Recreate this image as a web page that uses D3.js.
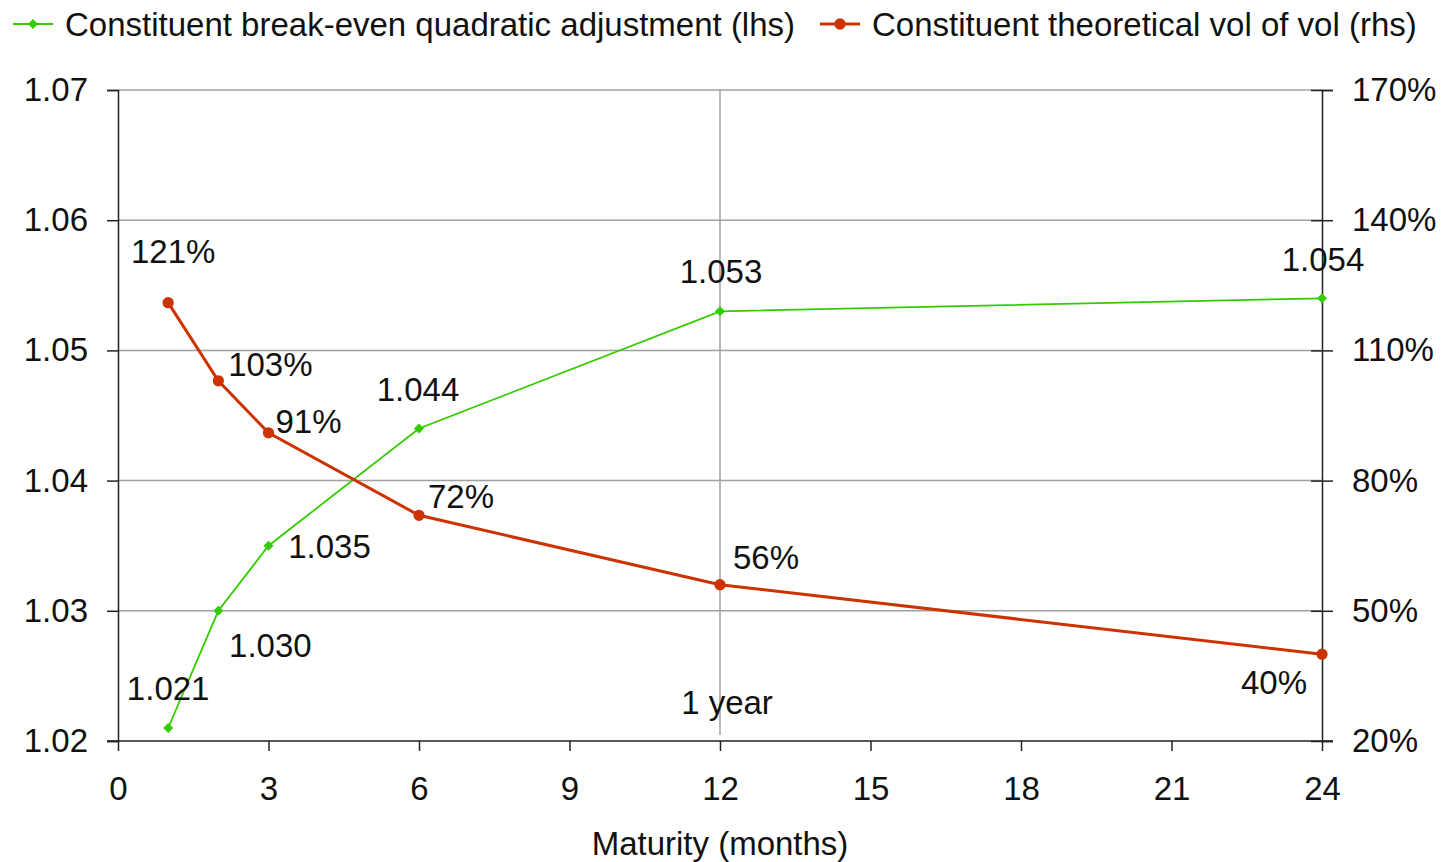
<!DOCTYPE html>
<html>
<head>
<meta charset="utf-8">
<script src="https://cdn.jsdelivr.net/npm/d3@7"></script>
<style>
  html, body { margin: 0; padding: 0; background: #fff; }
  svg { display: block; font-family: "Liberation Sans", Arial, sans-serif; }
</style>
</head>
<body>
<svg id="chart" width="1441" height="862"></svg>
<script>
// Maturities in months
const maturities = [1, 2, 3, 6, 12, 24];
// Break-even quadratic adjustment (left axis)
const adjustment = [1.021, 1.030, 1.035, 1.044, 1.053, 1.054];
// Theoretical vol of vol, percent (right axis)
const volOfVol = [121, 103, 91, 72, 56, 40];

const xTicks = [0, 3, 6, 9, 12, 15, 18, 21, 24];
const leftTicks = [1.02, 1.03, 1.04, 1.05, 1.06, 1.07];
const rightTicks = [20, 50, 80, 110, 140, 170];
const seriesNames = [
  "Constituent break-even quadratic adjustment (lhs)",
  "Constituent theoretical vol of vol (rhs)"
];
const markerMonth = 12;
const markerLabel = "1 year";
const xTitle = "Maturity (months)";

// label placement offsets (px) relative to each point
const adjOffsets = [[0, -28], [52, 46], [61, 12], [-1, -28], [1, -28], [1, -27]];
const volOffsets = [[5, -40], [52, -5], [40, 0], [42, -7], [46, -16], [-48, 40]];

const GREEN = "#33cc00";
const RED = "#cc3300";
const AXIS = "#222";
const GRID = "#a0a0a0";
const FS = 33;

const svg = d3.select("#chart");
const m = { left: 118, right: 1322, top: 90, bottom: 741 };

const x = d3.scaleLinear().domain([0, 24]).range([m.left, m.right]);
const yL = d3.scaleLinear().domain([1.02, 1.07]).range([m.bottom, m.top]);
const yR = d3.scaleLinear().domain([20, 170]).range([m.bottom, m.top]);

// horizontal gridlines
svg.append("g").selectAll("line").data(leftTicks.slice(1)).join("line")
  .attr("x1", m.left).attr("x2", m.right)
  .attr("y1", d => yL(d)).attr("y2", d => yL(d))
  .attr("stroke", GRID).attr("stroke-width", 1.5);

// 1-year reference line
svg.append("line")
  .attr("x1", x(markerMonth)).attr("x2", x(markerMonth))
  .attr("y1", m.top).attr("y2", m.bottom - 6)
  .attr("stroke", GRID).attr("stroke-width", 1.5);

// axes
const fmtL = d3.format(".2f");
const gL = svg.append("g").attr("transform", `translate(${m.left},0)`)
  .call(d3.axisLeft(yL).tickValues(leftTicks).tickFormat(fmtL).tickSize(11).tickPadding(19));
const gR = svg.append("g").attr("transform", `translate(${m.right},0)`)
  .call(d3.axisRight(yR).tickValues(rightTicks).tickFormat(d => d + "%").tickSize(11).tickPadding(19));
const gX = svg.append("g").attr("transform", `translate(0,${m.bottom})`)
  .call(d3.axisBottom(x).tickValues(xTicks).tickSize(10).tickPadding(26));

[gL, gR, gX].forEach(g => {
  g.select(".domain").attr("stroke", AXIS).attr("stroke-width", 1.5);
  g.selectAll(".tick line").attr("stroke", AXIS).attr("stroke-width", 1.5);
  g.selectAll("text").attr("fill", "#111").style("font-size", FS + "px")
    .style("font-family", "'Liberation Sans', Arial, sans-serif");
});
// right ticks cross the axis
gR.selectAll(".tick line").attr("x1", -11);
gX.select(".domain").attr("d", `M${m.left - 11},0H${m.right + 11}`);

// x axis title
svg.append("text")
  .attr("x", (m.left + m.right) / 2).attr("y", 855)
  .attr("text-anchor", "middle").attr("fill", "#111")
  .style("font-size", FS + "px").text(xTitle);

// 1 year label
svg.append("text")
  .attr("x", x(markerMonth) + 7).attr("y", 714)
  .attr("text-anchor", "middle").attr("fill", "#111")
  .style("font-size", FS + "px").text(markerLabel);

const adjData = maturities.map((mo, i) => ({ mo, v: adjustment[i], off: adjOffsets[i] }));
const volData = maturities.map((mo, i) => ({ mo, v: volOfVol[i], off: volOffsets[i] }));

// series lines
svg.append("path").datum(adjData)
  .attr("fill", "none").attr("stroke", GREEN).attr("stroke-width", 1.8)
  .attr("d", d3.line().x(d => x(d.mo)).y(d => yL(d.v)));
svg.append("path").datum(volData)
  .attr("fill", "none").attr("stroke", RED).attr("stroke-width", 3)
  .attr("d", d3.line().x(d => x(d.mo)).y(d => yR(d.v)));

// markers
const diamond = d3.symbol().type(d3.symbolSquare).size(50);
const dot = d3.symbol().type(d3.symbolCircle).size(100);
svg.append("g").selectAll("path").data(adjData).join("path")
  .attr("transform", d => `translate(${x(d.mo)},${yL(d.v)}) rotate(45)`)
  .attr("d", diamond).attr("fill", GREEN);
svg.append("g").selectAll("path").data(volData).join("path")
  .attr("transform", d => `translate(${x(d.mo)},${yR(d.v)})`)
  .attr("d", dot).attr("fill", RED);

// value labels
const fmtAdj = d3.format(".3f");
svg.append("g").selectAll("text").data(adjData).join("text")
  .attr("x", d => x(d.mo) + d.off[0]).attr("y", d => yL(d.v) + d.off[1])
  .attr("text-anchor", "middle").attr("fill", "#111")
  .style("font-size", FS + "px").text(d => fmtAdj(d.v));
svg.append("g").selectAll("text").data(volData).join("text")
  .attr("x", d => x(d.mo) + d.off[0]).attr("y", d => yR(d.v) + d.off[1])
  .attr("text-anchor", "middle").attr("fill", "#111")
  .style("font-size", FS + "px").text(d => d.v + "%");

// legend
const legend = [
  { name: seriesNames[0], color: GREEN, sym: diamond, rot: 45, w: 1.8, x: 13 },
  { name: seriesNames[1], color: RED, sym: dot, rot: 0, w: 3, x: 820 }
];
const lg = svg.append("g").selectAll("g").data(legend).join("g")
  .attr("transform", d => `translate(${d.x},24)`);
lg.append("line").attr("x1", 0).attr("x2", 40)
  .attr("stroke", d => d.color).attr("stroke-width", d => d.w);
lg.append("path").attr("transform", d => `translate(20,0) rotate(${d.rot})`)
  .attr("d", d => d.sym()).attr("fill", d => d.color);
lg.append("text").attr("x", 52).attr("y", 12)
  .attr("fill", "#111").style("font-size", FS + "px").text(d => d.name);
</script>
</body>
</html>
